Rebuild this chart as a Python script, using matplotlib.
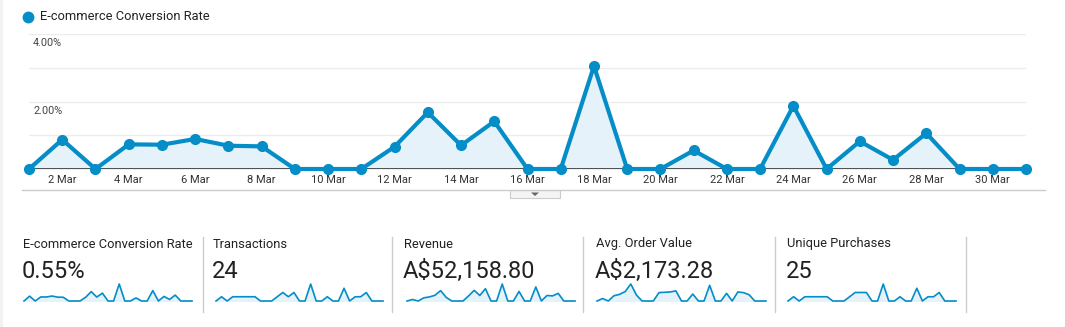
import matplotlib
matplotlib.use("Agg")
import matplotlib.pyplot as plt
from matplotlib.patches import Rectangle, Polygon
from matplotlib.lines import Line2D

plt.rcParams['font.family'] = ['Roboto', 'DejaVu Sans']

# daily data for March
days = list(range(1, 32))
tick_days = list(range(2, 31, 2))
tick_labels = ["%d Mar" % d for d in tick_days]

conv_rate = [0, 0.87, 0, 0.73, 0.72, 0.89, 0.69, 0.67, 0, 0, 0, 0.66, 1.68, 0.70, 1.41, 0,
             0, 3.05, 0, 0, 0.55, 0, 0, 1.87, 0, 0.82, 0.27, 1.06, 0, 0, 0]
transactions = [0, 1, 0, 1, 1, 1, 1, 1, 0, 0, 0, 1, 2, 1, 2, 0,
                0, 4, 0, 0, 1, 0, 0, 3, 0, 1, 1, 2, 0, 0, 0]
revenue = [0, 645.00, 0, 1374.50, 1745.60, 2476.40, 4473.10, 1560.00, 0, 0, 0, 2203.80,
           4582.20, 2378.30, 5324.10, 0, 0, 7331.50, 0, 0, 4123.90, 0, 0, 6055.00, 0,
           2378.30, 2203.80, 3303.30, 0, 0, 0]
avg_order = [0, 645.00, 0, 1374.50, 1745.60, 2476.40, 4473.10, 1560.00, 0, 0, 0, 2203.80,
             2291.10, 2378.30, 2662.05, 0, 0, 1832.88, 0, 0, 4123.90, 0, 0, 2018.33, 0,
             2378.30, 2203.80, 1651.65, 0, 0, 0]
unique_purchases = [0, 1, 0, 1, 1, 1, 1, 1, 0, 0, 0, 1, 2, 2, 2, 0,
                    0, 4, 0, 0, 1, 0, 0, 3, 0, 1, 1, 2, 0, 0, 0]

metric_names = ["E-commerce Conversion Rate", "Transactions", "Revenue",
                "Avg. Order Value", "Unique Purchases"]
metric_totals = ["0.55%", "24", "A$52,158.80", "A$2,173.28", "25"]
metric_series = [conv_rate, transactions, revenue, avg_order, unique_purchases]

W, H = 1065, 327
BLUE = "#058dc7"
FILL = "#e5f2f9"


def fx(px):
    return px / W


def fy(py):
    return 1 - py / H


fig = plt.figure(figsize=(W / 100, H / 100), dpi=100)
fig.patch.set_facecolor("white")

# faint shadow on the left edge
fig.add_artist(Rectangle((0, 0), fx(3), 1, transform=fig.transFigure,
                         facecolor="#f2f2f2", edgecolor="none"))

# legend
fig.add_artist(Line2D([fx(28)], [fy(17)], transform=fig.transFigure, marker="o",
                      markersize=7.5, color=BLUE, linestyle="none"))
fig.text(fx(40), fy(17), "E-commerce Conversion Rate", fontsize=9.3,
         color="#222222", va="center", ha="left")

# main line chart
ax = fig.add_axes([fx(29), fy(169), fx(1026) - fx(29), fy(34) - fy(169)])
ax.set_xlim(1, 31)
ax.set_ylim(0, 4)
for g in [1, 2, 3, 4]:
    ax.axhline(g, color="#ececec", lw=1, zorder=0)
ax.fill_between(days, conv_rate, 0, color=FILL, zorder=1)
ax.plot(days, conv_rate, color=BLUE, lw=3, marker="o", markersize=7,
        clip_on=False, zorder=3)
ax.axhline(0, color="#333333", lw=1.2, zorder=2)
for v, s in [(4, "4.00%"), (2, "2.00%")]:
    ax.annotate(s, (1, v), xytext=(3, -3), textcoords="offset points",
                fontsize=7.8, color="#444444", va="top", ha="left")
ax.set_xticks(tick_days)
ax.set_xticklabels(tick_labels, fontsize=8, color="#333333")
ax.tick_params(axis="x", length=0, pad=4)
ax.set_yticks([])
for sp in ax.spines.values():
    sp.set_visible(False)
ax.patch.set_alpha(0)

# separator below the chart with the collapse tab
fig.add_artist(Line2D([fx(22), fx(1045)], [fy(190), fy(190)], transform=fig.transFigure,
                      color="#cccccc", lw=1))
fig.add_artist(Rectangle((fx(510), fy(198)), fx(50), fy(190) - fy(198),
                         transform=fig.transFigure, facecolor="#f4f4f4",
                         edgecolor="#cccccc", lw=0.8))
fig.add_artist(Polygon([[fx(531), fy(192.5)], [fx(539), fy(192.5)], [fx(535), fy(196)]],
                       closed=True, transform=fig.transFigure,
                       facecolor="#666666", edgecolor="none"))

# metric panels with sparklines
title_x = [23, 213, 404, 596, 787]
spark_x = [(24, 192), (216, 383), (407, 575), (597, 766), (788, 956)]
dividers = [203, 392, 583, 775, 966]

for i in range(5):
    fig.text(fx(title_x[i]), fy(244), metric_names[i], fontsize=9.3,
             color="#222222", va="center", ha="left")
    fig.text(fx(title_x[i] - 1), fy(271), metric_totals[i], fontsize=17,
             color="#222222", va="center", ha="left")
    x0, x1 = spark_x[i]
    sax = fig.add_axes([fx(x0), fy(301), fx(x1) - fx(x0), fy(284) - fy(301)])
    vals = metric_series[i]
    sax.fill_between(days, vals, 0, color=FILL)
    sax.plot(days, vals, color=BLUE, lw=1.2, clip_on=False)
    sax.set_xlim(1, 31)
    sax.set_ylim(0, max(vals))
    sax.axis("off")
    fig.add_artist(Line2D([fx(dividers[i]), fx(dividers[i])], [fy(237), fy(312)],
                          transform=fig.transFigure, color="#cccccc", lw=1))

fig.savefig("out.png", dpi=100)
